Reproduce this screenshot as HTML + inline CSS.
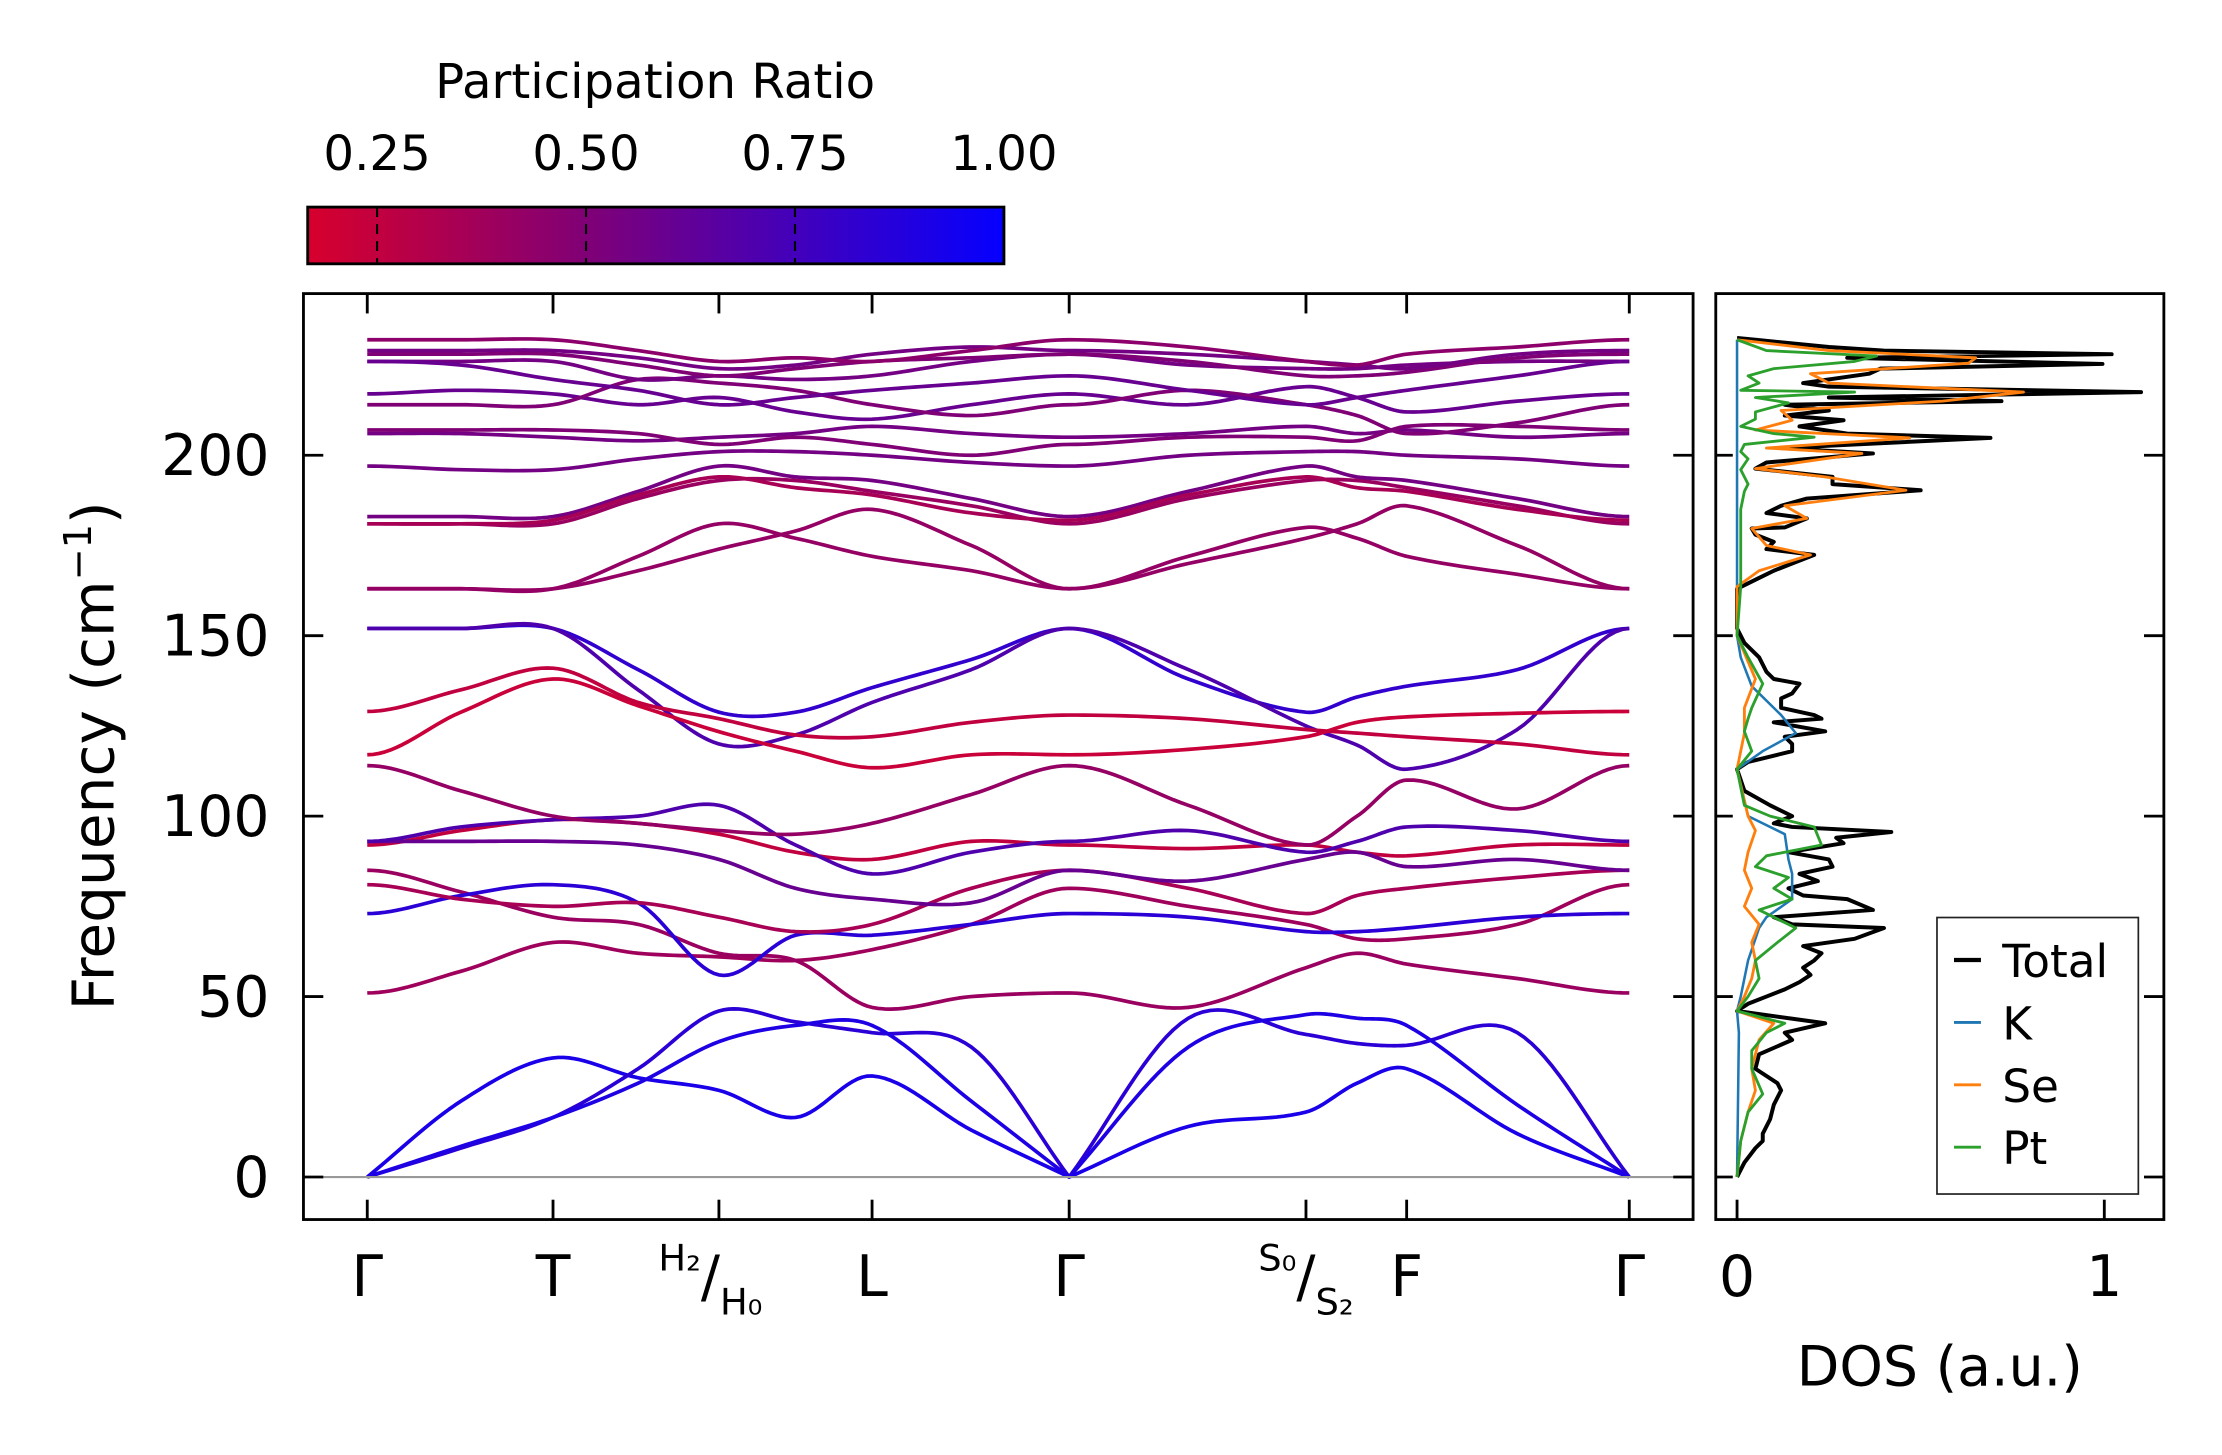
<!DOCTYPE html>
<html><head><meta charset="utf-8">
<style>
html,body{margin:0;padding:0;background:#fff;}
svg{display:block;font-family:"DejaVu Sans","Liberation Sans",sans-serif;}
</style></head>
<body>
<svg id="fig" width="2222" height="1455" viewBox="0 0 1567 1026" xmlns="http://www.w3.org/2000/svg">
  <defs>
    <linearGradient id="cmap" x1="0" x2="1" y1="0" y2="0">
      <stop offset="0" stop-color="rgb(215,0,45)"/>
      <stop offset="0.4" stop-color="rgb(128,0,118)"/>
      <stop offset="1" stop-color="rgb(5,0,255)"/>
    </linearGradient>
    <clipPath id="mainclip"><rect x="214" y="207" width="980" height="653"/></clipPath>
    <clipPath id="dosclip"><rect x="1210" y="207" width="316" height="653"/></clipPath>
  </defs>
  <text x="462" y="69" font-size="34" text-anchor="middle">Participation Ratio</text>
  <rect x="217" y="146" width="491" height="40" fill="url(#cmap)" stroke="#000" stroke-width="2"/>
  <g id="cbticks"></g>
  <g id="bands" clip-path="url(#mainclip)"></g>
  <line x1="214" x2="1194" y1="830" y2="830" stroke="#999" stroke-width="1.5"/>
  <rect x="214" y="207" width="980" height="653" fill="none" stroke="#000" stroke-width="2"/>
  <g id="mainticks"></g>
  <text transform="translate(80,533) rotate(-90)" font-size="41" text-anchor="middle">Frequency (cm<tspan dy="-16" font-size="27">−1</tspan><tspan dy="16">)</tspan></text>
  <g id="dos" clip-path="url(#dosclip)"></g>
  <rect x="1210" y="207" width="316" height="653" fill="none" stroke="#000" stroke-width="2"/>
  <g id="dosticks"></g>
  <text x="1368" y="977" font-size="39" text-anchor="middle">DOS (a.u.)</text>
  <g>
    <rect x="1366" y="647" width="142" height="195" fill="#fff" stroke="#222" stroke-width="1.2"/>
    <line x1="1378" x2="1397" y1="677" y2="677" stroke="#000" stroke-width="3"/>
    <text x="1412" y="689" font-size="32">Total</text>
    <line x1="1378" x2="1397" y1="721" y2="721" stroke="#1f77b4" stroke-width="2"/>
    <text x="1412" y="733" font-size="32">K</text>
    <line x1="1378" x2="1397" y1="765" y2="765" stroke="#ff7f0e" stroke-width="2"/>
    <text x="1412" y="777" font-size="32">Se</text>
    <line x1="1378" x2="1397" y1="809" y2="809" stroke="#2ca02c" stroke-width="2"/>
    <text x="1412" y="821" font-size="32">Pt</text>
  </g>
</svg>
<script>
const kLabels = ["Γ","T","H","L","Γ","S","F","Γ"];
const yTicks = [0,50,100,150,200];
const cbTicks = [0.25,0.50,0.75,1.00];
const cbTickLabels = ["0.25","0.50","0.75","1.00"];
const dosTicks = [0,1];

const ac1 = [0,21,33,27.5,24,16.5,28,13,0,14,18,26,30,12,0];
const ac2 = [0,8,16.5,30,46,43,40,36,0,44,39.5,37,36.5,40,0];
const ac3 = [0,8.5,16.5,26,37.5,42,42,21,0,36,45,44,42,20,0];
const o1 = [51,57,65,62,61,60,63,70,80,75,70,66,66,70,81];
const o2 = [85,79,72,70,62,60,47,50,51,47,58,62,59,55,51];
const o3 = [73,78,81,76,56,67,67,70,73,72,68,68,69,72,73];
const o4 = [81,77,75,76,72,68,70,80,85,80,73,78,80,83,85];
const o5 = [92,96,99,98,95,90,88,93,92,91,92,90,89,92,92];
const o6 = [93,93,93,92,88,80,77,76,85,82,88,90,86,88,85];
const o7 = [93,97,99,100,103,92,84,90,93,96,90,93,97,96,93];
const o8 = [114,107,100,98,96,95,98,106,114,103,92,100,110,102,114];
const m1 = [152,152,152,140.6,128.8,128.8,135.6,143.4,152,138,128.8,133,136,140.6,152];
const m2 = [152,152,152,135,120,122.5,131.5,140.6,152,140.6,125,119.7,113,124,152];
const m3 = [129,135,141,131.5,127,122.5,122,126,128,127,124,123,122,120,117];
const m4 = [117,128.8,138,130.6,123.4,118,113.4,117,117,118.5,122,126,127.5,128.5,129];
const u1 = [163,163,163,172,181,177,172,168,163,172,180,177,172,167,163];
const u2 = [163,163,163,168,174,179,185,175,163,170,177,181,186,175,163];
const u3 = [181,181,181,188,193,193,190,186,181,188,193,193,191,186,181];
const u4 = [183,183,183,190,197,194,193,188,183,190,197,194,193,188,183];
const u5 = [181,181,182,189,194,191,189,184,182,189,194,191,190,185,182];
const u6 = [197,196,196,199,201,201,200,198,197,200,201,201,200,199,197];
const u7 = [206,206,205,204,205,206,208,206,205,206,208,206,207,205,206];
const u8 = [207,207,207,206,203,205,203,200,203,205,205,204,208,208,207];
const u9 = [217,218,217,214,216,212,210,214,217,214,219,216,212,215,217];
const u10 = [214,214,214,221,220,218,214,211,214,218,214,211,206,209,214];
const u11 = [226,226,226,221,222,221,222,226,228,225,224,224,225,226,226];
const u12 = [228,228,228,225,222,224,226,227,228,226,222,222,223,227,228];
const u13 = [229,229,229,227,224,225,228,230,229,228,226,225,224,228,229];
const u14 = [232,232,232,229,226,227,226,229,232,230,226,225,228,230,232];
const u15 = [226,225,221,218,214,216,218,220,222,218,214,216,218,222,226];
const bandList = [ac1,ac2,ac3,o1,o2,o3,o4,o5,o6,o7,o8,m1,m2,m3,m4,u1,u2,u3,u4,u5,u6,u7,u8,u9,u10,u11,u12,u13,u14,u15];
const bandPR = [0.92,0.85,0.9,0.38,0.4,0.85,0.35,0.25,0.6,0.7,0.42,0.82,0.7,0.25,0.22,0.42,0.42,0.4,0.55,0.35,0.55,0.55,0.5,0.6,0.5,0.55,0.5,0.55,0.45,0.6];

const dosFreq = [0,4,8,10,12,16,20,24,26,30,34,38,40,42.6,46,48,50,52,54,56,58,60,62,64,66,69,70,72,74,77,78,80,82,84,86,88,90,92.5,94,95.6,97,98,100,103,107,110,113,115,118,120,122,123.5,126,127,128,130,132.6,134,136.7,138,140,144,148,150,152,163,164,166,168,170,172.4,174,176,178,179.7,180,182.5,184,186,188,190.3,192,194,196.3,198,200.5,202,204.8,206,208,209.7,211,212.4,214,215,216,217.5,219,220,222.6,224,225.3,227,228,229,230,232,232.5];
const dosTotal = [0,0.02,0.05,0.07,0.07,0.09,0.10,0.12,0.11,0.05,0.06,0.15,0.13,0.24,0.0,0.03,0.08,0.13,0.17,0.20,0.18,0.21,0.23,0.18,0.32,0.40,0.15,0.10,0.37,0.30,0.18,0.14,0.22,0.17,0.26,0.25,0.14,0.29,0.27,0.42,0.15,0.10,0.15,0.09,0.02,0.01,0.0,0.03,0.15,0.15,0.13,0.24,0.10,0.23,0.21,0.12,0.12,0.15,0.17,0.10,0.08,0.06,0.02,0.01,0,0,0.02,0.06,0.10,0.15,0.21,0.08,0.10,0.05,0.04,0.13,0.19,0.08,0.12,0.19,0.50,0.26,0.26,0.05,0.08,0.37,0.12,0.69,0.30,0.17,0.29,0.13,0.25,0.13,0.72,0.25,1.10,0.25,0.18,0.36,0.39,0.995,0.30,1.02,0.40,0.25,0.05,0];
const seFreq = [0,10,18,24,30,38,42.6,46,50,55,60,65,70,75,80,85,90,96,100,113,123,130,138,150,163.6,168,172.4,175,179.7,182.5,186,190.3,194,196.3,200.5,202,204.8,207,209.7,212.4,215,217.5,220,222.6,225.5,227,229,232];
const seVal = [0,0.01,0.03,0.05,0.04,0.06,0.10,0,0.02,0.04,0.05,0.04,0.06,0.02,0.04,0.02,0.03,0.05,0.03,0,0.02,0.02,0.05,0,0,0.06,0.20,0.08,0.04,0.19,0.13,0.46,0.24,0.05,0.34,0.08,0.47,0.05,0.15,0.12,0.56,0.78,0.25,0.2,0.63,0.65,0.25,0];
const ptFreq = [0,10,18,23,30,35,40,42.6,46,50,55,60,65,69,74,77,80,83,86,89,92,97,100,103,113,118,123.5,127,130,136.7,144,150,163.6,185,190,192,196,199,201,203,205,206,208,210,212,214.5,216,217.5,218,220,222,224,226,227.5,229,232];
const ptVal = [0,0.01,0.03,0.07,0.04,0.04,0.08,0.13,0,0.03,0.06,0.05,0.11,0.16,0.06,0.15,0.10,0.14,0.05,0.08,0.23,0.21,0.09,0.02,0,0.04,0.02,0.03,0.04,0.07,0.03,0,0.01,0.01,0.02,0.03,0.01,0.03,0.01,0.02,0.21,0.10,0.01,0.05,0.05,0.14,0.05,0.32,0.01,0.06,0.03,0.10,0.32,0.38,0.08,0];
const kFreq = [0,40,46,50,60,69,72,77,84,88,95,100,113,118,123,128,136,144,150,232];
const kVal = [0,0.005,0,0.01,0.03,0.06,0.08,0.15,0.15,0.14,0.13,0.03,0,0.07,0.16,0.12,0.04,0.01,0,0];

const kPos = [259,325,390,450,507,561,615,685,754,838,921,957,992,1070,1149];
const kTickIdx = [0,2,4,6,8,10,12,14];
function xK(i){ return kPos[i]; }
function yF(f){ return 830 - f*2.545; }
function xD(v){ return 1225 + v*259; }
function xCB(v){ return 217 + (v-0.167)/0.833*491; }
function cmap(p){
  const t=(p-0.167)/0.833;
  const s=[[0,215,0,45],[0.4,128,0,118],[1,5,0,255]];
  let a=s[0],b=s[1]; if(t>0.4){a=s[1];b=s[2];}
  const u=Math.max(0,Math.min(1,(t-a[0])/(b[0]-a[0])));
  return `rgb(${Math.round(a[1]+(b[1]-a[1])*u)},${Math.round(a[2]+(b[2]-a[2])*u)},${Math.round(a[3]+(b[3]-a[3])*u)})`;
}
const NS="http://www.w3.org/2000/svg";
function mk(tag,attrs,parent){const e=document.createElementNS(NS,tag);for(const k in attrs)e.setAttribute(k,attrs[k]);parent.appendChild(e);return e;}

function bandPath(vals){
  const n=vals.length, m=[];
  for(let i=0;i<n;i++){
    const breakPt=(i===0||i===8||i===n-1);
    if(breakPt){
      if(vals[i]>1){ m.push([0,0]); }
      else{
        const l = i>0 ? (vals[i]-vals[i-1])/(kPos[i]-kPos[i-1]) : 0;
        const r = i<n-1 ? (vals[i+1]-vals[i])/(kPos[i+1]-kPos[i]) : 0;
        m.push([l,r]);
      }
    } else {
      const s=(vals[i+1]-vals[i-1])/(kPos[i+1]-kPos[i-1]);
      m.push([s,s]);
    }
  }
  let d=`M${xK(0)},${yF(vals[0])}`;
  for(let i=0;i<n-1;i++){
    const x0=xK(i),x1=xK(i+1),h=x1-x0,y0=vals[i],y1=vals[i+1],m0=m[i][1],m1=m[i+1][0];
    for(let j=1;j<=16;j++){
      const t=j/16,t2=t*t,t3=t2*t;
      const f=(2*t3-3*t2+1)*y0+(t3-2*t2+t)*h*m0+(-2*t3+3*t2)*y1+(t3-t2)*h*m1;
      d+=`L${(x0+h*t).toFixed(2)},${yF(f).toFixed(2)}`;
    }
  }
  return d;
}
const gB=document.getElementById('bands');
bandList.forEach((b,i)=>{
  const p=mk('path',{d:bandPath(b),fill:'none',stroke:cmap(bandPR[i]),'stroke-width':2.6,'stroke-linejoin':'round'},gB);
  
  
});

const gT=document.getElementById('mainticks');
yTicks.forEach(v=>{
  const y=yF(v);
  mk('line',{x1:214,x2:228,y1:y,y2:y,stroke:'#000','stroke-width':2},gT);
  mk('line',{x1:1180,x2:1194,y1:y,y2:y,stroke:'#000','stroke-width':2},gT);
  const t=mk('text',{x:190,y:y+14,'font-size':40,'text-anchor':'end'},gT);
  t.textContent=v;
  
  
});
kTickIdx.forEach((ki,j)=>{
  const x=xK(ki);
  mk('line',{x1:x,x2:x,y1:207,y2:221,stroke:'#000','stroke-width':2},gT);
  mk('line',{x1:x,x2:x,y1:846,y2:860,stroke:'#000','stroke-width':2},gT);
  const lab=kLabels[j];
  const t=mk('text',{x:x,y:914,'font-size':40,'text-anchor':'middle'},gT);
  if(lab==="H"){
    t.innerHTML='<tspan font-size="26" dy="-18" dx="-6">H₂</tspan><tspan dy="18">/</tspan><tspan font-size="26" dy="13">H₀</tspan>';
  } else if(lab==="S"){
    t.innerHTML='<tspan font-size="26" dy="-18">S₀</tspan><tspan dy="18">/</tspan><tspan font-size="26" dy="13">S₂</tspan>';
  } else {
    t.textContent=lab;
  }
  
  
});

const gC=document.getElementById('cbticks');
cbTicks.forEach((v,i)=>{
  const x=xCB(v);
  if(v<1) mk('line',{x1:x,x2:x,y1:146,y2:186,stroke:'#000','stroke-width':1.5,'stroke-dasharray':'7,5'},gC);
  const t=mk('text',{x:x,y:120,'font-size':34,'text-anchor':'middle'},gC);
  t.textContent=cbTickLabels[i];
  
  
});

const gD=document.getElementById('dos');
function dosLine(fr,vals,color,w,name){
  let d='';
  fr.forEach((f,i)=>{ d+=(i?'L':'M')+xD(vals[i]).toFixed(2)+','+yF(f).toFixed(2); });
  const p=mk('path',{d:d,fill:'none',stroke:color,'stroke-width':w,'stroke-linejoin':'round'},gD);
  
  
}
dosLine(dosFreq,dosTotal,'#000',2.8,'dos-total-line');
dosLine(kFreq,kVal,'#1f77b4',1.8,'dos-k-line');
dosLine(seFreq,seVal,'#ff7f0e',2,'dos-se-line');
dosLine(ptFreq,ptVal,'#2ca02c',2,'dos-pt-line');

const gDT=document.getElementById('dosticks');
yTicks.forEach(v=>{
  const y=yF(v);
  mk('line',{x1:1210,x2:1222,y1:y,y2:y,stroke:'#000','stroke-width':2},gDT);
  mk('line',{x1:1512,x2:1526,y1:y,y2:y,stroke:'#000','stroke-width':2},gDT);
});
dosTicks.forEach(v=>{
  const x=xD(v);
  mk('line',{x1:x,x2:x,y1:846,y2:860,stroke:'#000','stroke-width':2},gDT);
  const t=mk('text',{x:x,y:914,'font-size':40,'text-anchor':'middle'},gDT);
  t.textContent=v;
  
  
});
</script>
</body></html>
